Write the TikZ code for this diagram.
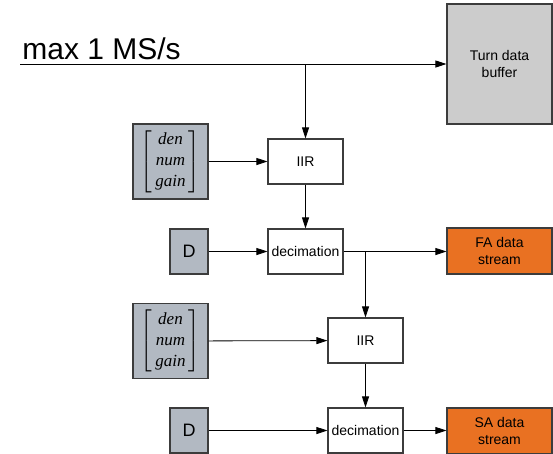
\documentclass[tikz,border=0pt]{standalone}
\usepackage{amsmath}
\usepackage{fontspec}
\setmainfont{Liberation Sans}
\newfontfamily\coeffont{Liberation Serif}
\usetikzlibrary{positioning, arrows.meta, calc}

\definecolor{parcol}{RGB}{178,185,194}
\definecolor{bufcol}{RGB}{204,204,204}
\definecolor{outcol}{RGB}{233,113,34}
\definecolor{edgecol}{RGB}{60,60,60}

% filter coefficients, set as a bracketed column
\newcommand{\coefvec}{\fontsize{17}{21}\selectfont
  $\left[\begin{array}{@{\,}c@{\,}}
    \text{\coeffont\itshape den}\\
    \text{\coeffont\itshape num}\\
    \text{\coeffont\itshape gain}
  \end{array}\right]$}

\begin{document}
\begin{tikzpicture}[
  x=1pt, y=-1pt,
  every path/.style={line width=0.8pt},
  blk/.style    = {rectangle, draw=edgecol, line width=1.2pt, fill=white, inner sep=0pt,
                   minimum width=75pt, minimum height=45pt, font=\fontsize{14}{17}\selectfont},
  par/.style    = {blk, fill=parcol, minimum height=75pt},
  dbox/.style   = {blk, fill=parcol, minimum width=38pt, font=\fontsize{18}{21}\selectfont},
  stream/.style = {blk, fill=outcol, minimum width=105pt, minimum height=46pt, align=center},
  sig/.style    = {-{Triangle[length=11pt,width=7pt]}},
  ]
  \useasboundingbox (0,0) rectangle (553,453);

  % Fast input and turn buffer
  \coordinate (src) at (20,64);
  \node (buffer) at (499.5,64) [stream, fill=bufcol, minimum height=120pt] {Turn data\\buffer};
  \node (rate) [anchor=south west, inner sep=0pt, font=\fontsize{30}{34}\selectfont] at (22,60) {max 1 MS/s};

  % First filter stage
  \node (iirA) at (305.5,161.5) [blk]    {IIR};
  \node (parA) at (170.5,161.5) [par]    {\coefvec};
  \node (decA) at (305.5,251.5) [blk]    {decimation};
  \node (dA)   at (189,251.5)   [dbox]   {D};
  \node (fa)   at (499.5,251)   [stream] {FA data\\stream};

  % Second filter stage
  \node (iirB) at (365.5,340.5) [blk]    {IIR};
  \node (parB) at (170.5,341)   [par]    {\coefvec};
  \node (decB) at (365.5,430.5) [blk]    {decimation};
  \node (dB)   at (189,430.5)   [dbox]   {D};
  \node (sa)   at (499.5,431)   [stream] {SA data\\stream};

  % Signal flow
  \draw[sig] (src) -- (buffer);
  \draw[sig] (iirA.north |- src) -- (iirA);
  \draw[sig] (parA) -- (iirA);
  \draw[sig] (iirA) -- (decA);
  \draw[sig] (dA) -- (decA);
  \draw[sig] (decA) -- (decA -| fa.west);
  \draw[sig] (iirB.north |- decA) -- (iirB);
  \draw[sig] (parB) -- (iirB);
  \draw[sig] (iirB) -- (decB);
  \draw[sig] (dB) -- (decB);
  \draw[sig] (decB) -- (decB -| sa.west);
\end{tikzpicture}
\end{document}
